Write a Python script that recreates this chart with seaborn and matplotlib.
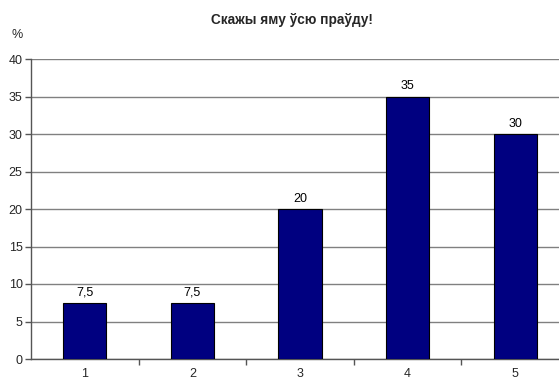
import matplotlib
matplotlib.use("Agg")
import matplotlib.pyplot as plt
import seaborn as sns
import pandas as pd
from matplotlib.ticker import FixedLocator

categories = ["1", "2", "3", "4", "5"]
values = [7.5, 7.5, 20, 35, 30]
y_ticks = [0, 5, 10, 15, 20, 25, 30, 35, 40]
title = "Скажы яму ўсю праўду!"
y_unit = "%"

sns.set_theme(style="white")
plt.rcParams["font.family"] = ["Liberation Sans", "DejaVu Sans"]

df = pd.DataFrame({"cat": categories, "val": values})

fig = plt.figure(figsize=(5.59, 3.79), dpi=100)
ax = fig.add_axes([31 / 559, 1 - 359 / 379, 538 / 559, 300 / 379])

sns.barplot(data=df, x="cat", y="val", ax=ax, color="#000080",
            width=0.4, edgecolor="black", linewidth=0.8, saturation=1, zorder=3)

ax.set_xlim(-0.5, 4.5)
ax.set_ylim(0, 40)
ax.set_yticks(y_ticks)
ax.yaxis.grid(True, color="#808080", linewidth=1.0, zorder=0)
ax.set_axisbelow(True)

for s in ["top", "right"]:
    ax.spines[s].set_visible(False)
for s in ["left", "bottom"]:
    ax.spines[s].set_color("#555555")
    ax.spines[s].set_linewidth(1.0)

ax.set_xlabel("")
ax.set_ylabel("")
ax.tick_params(axis="y", which="major", direction="out", length=4, width=1,
               color="#555555", labelsize=9, pad=2, left=True)
ax.tick_params(axis="x", which="major", length=0, labelsize=9, pad=6.5)
ax.xaxis.set_minor_locator(FixedLocator([0.5 + i for i in range(len(categories) - 1)]))
ax.tick_params(axis="x", which="minor", direction="out", length=4, width=1,
               color="#555555", bottom=True)

for bar, v in zip(ax.patches, values):
    label = f"{v:g}".replace(".", ",")
    ax.annotate(label, (bar.get_x() + bar.get_width() / 2, bar.get_height()),
                xytext=(0, 3), textcoords="offset points",
                ha="center", va="bottom", fontsize=9, color="black")

fig.text(292 / 559, 1 - 20 / 379, title, ha="center", va="center",
         fontsize=9.8, fontweight="bold")
fig.text(17 / 559, 1 - 35 / 379, y_unit, ha="center", va="center", fontsize=9)

fig.savefig("out.png", dpi=100)
